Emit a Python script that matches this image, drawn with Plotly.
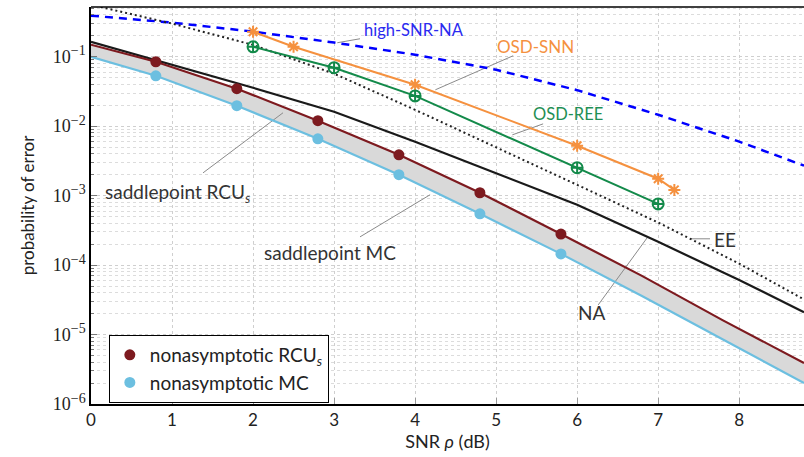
import plotly.graph_objects as go
import math

# ---------------- data ----------------
snr_sp = [0, 0.8, 1.8, 2.8, 3.8, 4.8, 5.8, 6.8, 7.8, 8.8]
saddle_rcus = [0.149, 0.0847, 0.0347, 0.0120, 0.00387, 0.00110, 2.8e-4, 7.0e-5, 1.6e-5, 3.9e-6]
saddle_mc = [0.100, 0.0532, 0.0197, 0.00658, 0.00200, 5.47e-4, 1.45e-4, 3.6e-5, 8.5e-6, 2.0e-6]

snr_nonasym = [0.8, 1.8, 2.8, 3.8, 4.8, 5.8]
nonasym_rcus = [0.0847, 0.0347, 0.0120, 0.00387, 0.00110, 2.8e-4]
nonasym_mc = [0.0532, 0.0197, 0.00658, 0.00200, 5.47e-4, 1.45e-4]

snr_grid = [0, 1, 2, 3, 4, 5, 6, 7, 8, 8.8]
na_vals = [0.164, 0.0767, 0.0357, 0.0161, 0.00596, 0.0021, 7.4e-4, 2.16e-4, 6.1e-5, 2.1e-5]
ee_vals = [0.56, 0.30, 0.148, 0.057, 0.0172, 0.0050, 0.00143, 4.1e-4, 1.05e-4, 3.2e-5]
high_snr_na = [0.39, 0.31, 0.23, 0.16, 0.107, 0.065, 0.033, 0.0146, 0.006, 0.0027]

snr_osd_snn = [2, 2.5, 4, 6, 7, 7.2]
osd_snn = [0.229, 0.139, 0.0395, 0.00522, 0.00175, 0.00121]
snr_osd_ree = [2, 3, 4, 6, 7]
osd_ree = [0.139, 0.0695, 0.0273, 0.00252, 7.6e-4]

x_ticks = [0, 1, 2, 3, 4, 5, 6, 7, 8]
y_decades = [-6, -5, -4, -3, -2, -1]
y_ticktext = ["10<sup><span style='font-size:14px'>\u2212%d</span></sup>" % (-d) for d in y_decades]

# labels: (text, text_x, text_y, anchor, pointer x0, y0, x1, y1, color, size)
labels = [
    ("high-SNR-NA", 3.35, 0.245, "left", 3.04, 0.159, 3.32, 0.1815, "#2a2af0", 16.5),
    ("OSD-SNN", 5.48, 0.139, "center", 4.25, 0.0334, 5.21, 0.1033, "#f5913f", 17),
    ("OSD-REE", 5.89, 0.0151, "center", 5.2, 0.0075, 5.58, 0.0108, "#1f8f55", 16.5),
    ("saddlepoint RCU<sub><i>s</i></sub>", 1.074, 0.0011, "center", 2.37, 0.0156, 1.383, 0.00213, "#333333", 19),
    ("saddlepoint MC", 2.95, 1.5e-4, "center", 4.185, 0.00103, 3.32, 2.55e-4, "#333333", 19),
    ("EE", 7.67, 2.31e-4, "left", 7.395, 2.39e-4, 7.64, 2.39e-4, "#333333", 19),
    ("NA", 6.185, 2.05e-5, "center", 6.864, 2.47e-4, 6.26, 2.67e-5, "#333333", 19),
]

C_RCU = "#7d1a1f"
C_MC = "#6cbfe0"
C_ORANGE = "#f5913f"
C_GREEN = "#138a4a"
FONT = "Lato"

fig = go.Figure()

# gray band between the saddlepoint curves
fig.add_trace(go.Scatter(x=snr_sp, y=saddle_mc, mode="lines", line=dict(width=0, color=C_MC),
                         showlegend=False, hoverinfo="skip"))
fig.add_trace(go.Scatter(x=snr_sp, y=saddle_rcus, mode="lines", line=dict(width=0, color=C_RCU),
                         fill="tonexty", fillcolor="#d9d9d9", showlegend=False, hoverinfo="skip"))

# pointer lines for the labels
for text, tx, ty, anchor, x0, y0, x1, y1, col, sz in labels:
    fig.add_trace(go.Scatter(x=[x0, x1], y=[y0, y1], mode="lines",
                             line=dict(color="#8a8a8a", width=1), showlegend=False, hoverinfo="skip"))

fig.add_trace(go.Scatter(x=snr_grid, y=high_snr_na, mode="lines",
                         line=dict(color="#0000ff", width=2.5, dash="8px,6px"), showlegend=False))
fig.add_trace(go.Scatter(x=snr_grid, y=ee_vals, mode="lines",
                         line=dict(color="#222222", width=2, dash="2px,3px"), showlegend=False))
fig.add_trace(go.Scatter(x=snr_grid, y=na_vals, mode="lines",
                         line=dict(color="#1a1a1a", width=2.2), showlegend=False))
fig.add_trace(go.Scatter(x=snr_osd_snn, y=osd_snn, mode="lines+markers",
                         line=dict(color=C_ORANGE, width=2),
                         marker=dict(symbol="asterisk-open", size=10, line=dict(color=C_ORANGE, width=2)),
                         showlegend=False))
fig.add_trace(go.Scatter(x=snr_osd_ree, y=osd_ree, mode="lines+markers",
                         line=dict(color=C_GREEN, width=2),
                         marker=dict(symbol="circle-cross-open", size=11, line=dict(color=C_GREEN, width=2)),
                         showlegend=False))
fig.add_trace(go.Scatter(x=snr_sp, y=saddle_mc, mode="lines",
                         line=dict(color=C_MC, width=2.2), showlegend=False))
fig.add_trace(go.Scatter(x=snr_sp, y=saddle_rcus, mode="lines",
                         line=dict(color=C_RCU, width=2.2), showlegend=False))
fig.add_trace(go.Scatter(x=snr_nonasym, y=nonasym_rcus, mode="markers",
                         marker=dict(color=C_RCU, size=11),
                         name="nonasymptotic RCU<sub><i>s</i></sub>"))
fig.add_trace(go.Scatter(x=snr_nonasym, y=nonasym_mc, mode="markers",
                         marker=dict(color=C_MC, size=11),
                         name="nonasymptotic MC"))

annotations = []
for text, tx, ty, anchor, x0, y0, x1, y1, col, sz in labels:
    annotations.append(dict(x=tx, y=math.log10(ty), xref="x", yref="y", text=text,
                            showarrow=False, xanchor=anchor, yanchor="middle",
                            font=dict(family=FONT, size=sz, color=col)))
shapes = [dict(type="line", xref="paper", yref="paper", x0=0, x1=1, y0=1, y1=1,
               line=dict(color="black", width=1.5))]

minor_vals = [m * 10 ** d for d in range(-6, 0) for m in range(2, 10)]

fig.update_layout(
    width=804, height=457,
    margin=dict(l=91, r=0, t=7, b=53),
    plot_bgcolor="white", paper_bgcolor="white",
    font=dict(family=FONT, size=16, color="#222222"),
    shapes=shapes, annotations=annotations,
    legend=dict(x=0.025, y=0.174, xanchor="left", yanchor="top", traceorder="normal",
                bgcolor="white", bordercolor="black", borderwidth=1,
                font=dict(family=FONT, size=19, color="#222222"), tracegroupgap=0),
    xaxis=dict(range=[0, 8.8], tickvals=x_ticks, ticks="inside", ticklen=6, tickcolor="#999999",
               showline=True, linecolor="black", linewidth=1.5, automargin=False,
               showgrid=True, gridcolor="#cfcfcf", griddash="dot", gridwidth=1,
               zeroline=False, tickfont=dict(family=FONT, size=17, color="#222222"),
               title=dict(text="SNR <i>ρ</i> (dB)", font=dict(family=FONT, size=18), standoff=4)),
    yaxis=dict(type="log", range=[-6, -0.284], automargin=False,
               tickvals=[10 ** d for d in y_decades], ticktext=y_ticktext,
               ticks="inside", ticklen=6, tickcolor="#777777",
               showline=True, linecolor="black", linewidth=1.5,
               showgrid=True, gridcolor="#cfcfcf", griddash="dot", gridwidth=1,
               zeroline=False, tickfont=dict(family="Liberation Serif", size=18, color="#222222"),
               minor=dict(tickvals=minor_vals, ticks="inside", ticklen=3, tickcolor="#777777",
                          showgrid=True, gridcolor="#dcdcdc", griddash="dot", gridwidth=1),
               title=dict(text="probability of error", font=dict(family=FONT, size=17), standoff=14)),
)

fig.write_html("out.html", config={"displayModeBar": False},
               post_script="document.body.style.margin='0';")
